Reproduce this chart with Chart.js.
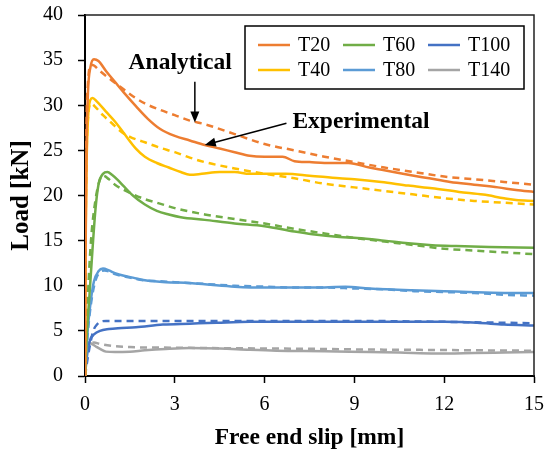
<!DOCTYPE html>
<html>
<head>
<meta charset="utf-8">
<script src="https://cdn.jsdelivr.net/npm/chart.js@4/dist/chart.umd.min.js"></script>
<style>
    html, body { margin: 0; padding: 0; background: #fff; }
</style>
</head>
<body>
<canvas id="js-slipChart" width="546" height="455"></canvas>
<script>
// load [kN] against free end slip [mm], pairs of [slip, load]
const t20Exp = [[0,0],[0.02,15],[0.05,25],[0.1,31.5],[0.18,34.2],[0.3,35.1],[0.45,34.9],[0.7,33.8],[1.0,32.6],[1.3,31.4],[1.7,29.9],[2.1,28.5],[2.5,27.4],[3.0,26.6],[3.5,26.1],[4.0,25.6],[4.5,25.2],[5.0,24.8],[5.5,24.4],[6.0,24.3],[6.6,24.3],[7.0,23.8],[7.5,23.7],[8.0,23.6],[8.8,23.6],[9.5,23.1],[10.0,22.8],[10.8,22.3],[11.5,21.9],[12.2,21.5],[13.0,21.2],[13.8,20.9],[14.4,20.6],[15.0,20.4]];
const t20Ana = [[0,0],[0.02,18],[0.05,28],[0.1,32.5],[0.2,34.5],[0.3,34.4],[0.5,33.8],[0.8,33.0],[1.2,32.0],[1.6,31.0],[2.0,30.2],[2.5,29.5],[3.0,28.9],[3.5,28.3],[4.0,27.9],[5.0,26.8],[6.0,25.7],[7.0,25.0],[8.0,24.3],[9.0,23.7],[10.0,23.1],[11.0,22.6],[12.0,22.1],[13.0,21.8],[14.0,21.5],[15.0,21.2]];
const t40Exp = [[0,0],[0.02,14],[0.05,23],[0.1,28.5],[0.18,30.6],[0.25,30.8],[0.4,30.4],[0.7,29.3],[1.0,28.2],[1.3,26.9],[1.7,25.2],[2.0,24.3],[2.4,23.6],[2.8,23.1],[3.2,22.6],[3.5,22.3],[3.9,22.4],[4.5,22.6],[5.0,22.6],[5.5,22.4],[6.0,22.4],[6.7,22.4],[7.5,22.2],[8.5,21.9],[9.0,21.8],[9.9,21.5],[10.8,21.1],[11.6,20.8],[12.5,20.4],[13.3,20.1],[14.0,19.7],[14.4,19.5],[15.0,19.4]];
const t40Ana = [[0,0],[0.02,15],[0.05,24],[0.1,28.5],[0.2,30.2],[0.35,29.8],[0.6,28.9],[0.9,28.0],[1.2,27.1],[1.5,26.5],[2.0,25.9],[2.5,25.3],[3.0,24.8],[3.5,24.2],[4.0,23.7],[5.0,23.0],[6.0,22.4],[7.0,21.9],[8.0,21.3],[9.0,20.9],[10.0,20.5],[11.0,20.1],[12.0,19.7],[13.0,19.4],[14.0,19.2],[15.0,19.0]];
const t60Exp = [[0,0],[0.05,4],[0.15,9],[0.25,14],[0.35,18.5],[0.45,21.2],[0.6,22.4],[0.75,22.6],[0.9,22.3],[1.1,21.7],[1.3,21.0],[1.6,20.0],[2.0,19.0],[2.4,18.3],[2.8,17.9],[3.2,17.6],[4.0,17.3],[5.0,16.9],[6.0,16.6],[7.0,16.0],[7.6,15.7],[8.5,15.4],[9.1,15.3],[10.0,15.0],[10.8,14.7],[11.6,14.5],[12.4,14.4],[13.5,14.3],[15.0,14.2]];
const t60Ana = [[0,0],[0.1,9],[0.2,15],[0.35,19.5],[0.5,21.8],[0.6,22.2],[0.8,21.8],[1.0,21.2],[1.5,20.3],[2.0,19.6],[2.5,19.1],[3.0,18.6],[4.0,17.9],[5.0,17.4],[6.0,16.9],[7.0,16.3],[8.0,15.8],[9.0,15.3],[10.0,14.9],[11.0,14.5],[12.0,14.1],[13.0,13.9],[14.0,13.7],[15.0,13.5]];
const t80Exp = [[0,0],[0.05,3],[0.1,5.5],[0.2,8.5],[0.3,10.5],[0.45,11.6],[0.6,11.9],[0.8,11.7],[1.0,11.4],[1.3,11.1],[1.6,10.9],[2.0,10.6],[2.7,10.4],[3.5,10.3],[4.2,10.1],[5.0,9.9],[6.0,9.8],[7.0,9.8],[8.0,9.8],[8.7,9.9],[9.5,9.7],[10.9,9.5],[12.0,9.4],[12.8,9.3],[14.0,9.2],[15.0,9.2]];
const t80Ana = [[0,0],[0.1,5],[0.2,8],[0.35,10.6],[0.5,11.5],[0.65,11.7],[0.8,11.6],[1.0,11.3],[1.5,10.9],[2.0,10.6],[2.5,10.5],[3.0,10.4],[4.0,10.2],[5.0,10.0],[6.0,9.9],[7.0,9.8],[8.0,9.8],[9.0,9.7],[10.0,9.6],[11.0,9.4],[12.0,9.3],[13.0,9.2],[14.0,9.0],[15.0,8.9]];
const t100Exp = [[0,0],[0.05,1.8],[0.1,3.0],[0.17,4.0],[0.3,4.6],[0.5,5.0],[0.8,5.2],[1.1,5.3],[1.7,5.4],[2.6,5.7],[3.5,5.8],[4.4,5.9],[5.5,6.0],[6.4,6.0],[8.0,6.0],[9.5,6.0],[10.8,6.0],[12.0,6.0],[13.1,5.9],[14.0,5.7],[15.0,5.6]];
const t100Ana = [[0,0],[0.1,2.2],[0.2,4.0],[0.3,5.2],[0.4,5.7],[0.5,6.0],[0.7,6.1],[1.0,6.1],[3.0,6.1],[6.0,6.1],[9.0,6.1],[12.0,6.0],[13.0,5.95],[14.0,5.9],[15.0,5.85]];
const t140Exp = [[0,0],[0.02,2.5],[0.05,3.3],[0.1,3.7],[0.2,3.6],[0.35,3.3],[0.5,3.0],[0.7,2.7],[1.0,2.65],[1.5,2.7],[2.0,2.85],[2.7,3.0],[3.5,3.1],[4.5,3.05],[5.5,2.9],[6.4,2.8],[8.0,2.75],[9.5,2.65],[10.5,2.6],[11.7,2.5],[13.0,2.55],[14.0,2.6],[15.0,2.65]];
const t140Ana = [[0,0],[0.05,2.5],[0.1,3.3],[0.2,3.65],[0.3,3.7],[0.5,3.55],[0.75,3.4],[1.0,3.3],[1.5,3.2],[2.5,3.15],[4.0,3.1],[6.0,3.05],[8.0,3.0],[9.0,2.95],[11.0,2.9],[13.0,2.85],[15.0,2.8]];

const seriesNames = ['T20', 'T40', 'T60', 'T80', 'T100', 'T140'];
const seriesColors = ['#ED7D31', '#FFC000', '#70AD47', '#5B9BD5', '#4472C4', '#A5A5A5'];
const experimental = [t20Exp, t40Exp, t60Exp, t80Exp, t100Exp, t140Exp];
const analytical = [t20Ana, t40Ana, t60Ana, t80Ana, t100Ana, t140Ana];

const xTicks = [0, 3, 6, 9, 12, 15];
const yTicks = [0, 5, 10, 15, 20, 25, 30, 35, 40];

// callouts: text anchor and arrow tail -> head, in slip/load units
const callouts = [
    { text: 'Analytical', at: [3.18, 34.7], align: 'center', from: [3.67, 32.6], to: [3.67, 28.1] },
    { text: 'Experimental', at: [6.93, 28.1], align: 'left', from: [6.73, 28.0], to: [4.0, 25.6] },
];

const serif = '"Liberation Serif", "Times New Roman", serif';

const datasets = [];
seriesNames.forEach((name, i) => {
    datasets.push({
        label: name,
        data: experimental[i],
        borderColor: seriesColors[i],
        borderWidth: 2.5,
        pointRadius: 0,
        cubicInterpolationMode: 'monotone',
        fill: false,
    });
    datasets.push({
        label: name + ' analytical',
        data: analytical[i],
        borderColor: seriesColors[i],
        borderWidth: 2.5,
        borderDash: [7, 5],
        pointRadius: 0,
        cubicInterpolationMode: 'monotone',
        fill: false,
    });
});

// box around the plot plus the in-chart legend
const framePlugin = {
    id: 'frame',
    afterDraw(chart) {
        const { ctx, chartArea: a } = chart;
        ctx.save();
        ctx.strokeStyle = '#222';
        ctx.lineWidth = 1.5;
        ctx.beginPath();
        ctx.moveTo(a.left, a.top);
        ctx.lineTo(a.right, a.top);
        ctx.lineTo(a.right, a.bottom);
        ctx.stroke();

        const left = a.right - 289, top = a.top + 11;
        ctx.fillStyle = '#fff';
        ctx.fillRect(left, top, 279, 63);
        ctx.strokeStyle = '#000';
        ctx.lineWidth = 1.5;
        ctx.strokeRect(left, top, 279, 63);

        ctx.font = '20px ' + serif;
        ctx.textBaseline = 'middle';
        ctx.textAlign = 'left';
        seriesNames.forEach((name, i) => {
            const col = Math.floor(i / 2), row = i % 2;
            const x = left + 13 + col * 85;
            const y = top + 19 + row * 25;
            ctx.strokeStyle = seriesColors[i];
            ctx.lineWidth = 2.5;
            ctx.beginPath();
            ctx.moveTo(x, y);
            ctx.lineTo(x + 32, y);
            ctx.stroke();
            ctx.fillStyle = '#000';
            ctx.fillText(name, x + 40, y + 1);
        });
        ctx.restore();
    }
};

const calloutPlugin = {
    id: 'callouts',
    afterDatasetsDraw(chart) {
        const { ctx, scales: { x, y } } = chart;
        ctx.save();
        ctx.font = 'bold 23.5px ' + serif;
        ctx.fillStyle = '#000';
        ctx.strokeStyle = '#000';
        ctx.textBaseline = 'middle';
        callouts.forEach(c => {
            ctx.textAlign = c.align;
            ctx.fillText(c.text, x.getPixelForValue(c.at[0]), y.getPixelForValue(c.at[1]));

            const x1 = x.getPixelForValue(c.from[0]), y1 = y.getPixelForValue(c.from[1]);
            const x2 = x.getPixelForValue(c.to[0]), y2 = y.getPixelForValue(c.to[1]);
            const ang = Math.atan2(y2 - y1, x2 - x1);
            const head = 11, half = 4.5;
            ctx.lineWidth = 1.5;
            ctx.beginPath();
            ctx.moveTo(x1, y1);
            ctx.lineTo(x2 - Math.cos(ang) * head * 0.8, y2 - Math.sin(ang) * head * 0.8);
            ctx.stroke();
            ctx.beginPath();
            ctx.moveTo(x2, y2);
            ctx.lineTo(x2 - Math.cos(ang) * head - Math.sin(ang) * half, y2 - Math.sin(ang) * head + Math.cos(ang) * half);
            ctx.lineTo(x2 - Math.cos(ang) * head + Math.sin(ang) * half, y2 - Math.sin(ang) * head - Math.cos(ang) * half);
            ctx.closePath();
            ctx.fill();
        });
        ctx.restore();
    }
};

const axisGrid = {
    display: true,
    drawOnChartArea: false,
    drawTicks: true,
    tickLength: 7,
    tickColor: '#000',
    tickWidth: 1.5,
};

// fixed axis band, labels may spill into the outer margin
function fixSize(prop, size) {
    return s => {
        s[prop] = size;
        s.paddingLeft = s.paddingRight = s.paddingTop = s.paddingBottom = 0;
    };
}

new Chart(document.getElementById('js-slipChart'), {
    type: 'line',
    data: { datasets },
    options: {
        responsive: false,
        animation: false,
        layout: { padding: { left: 0, right: 12, top: 15, bottom: 0 } },
        plugins: {
            legend: { display: false },
            tooltip: { enabled: false },
        },
        scales: {
            x: {
                type: 'linear',
                min: 0,
                max: 15,
                grid: axisGrid,
                border: { color: '#000', width: 2 },
                afterBuildTicks: s => { s.ticks = xTicks.map(v => ({ value: v })); },
                afterFit: fixSize('height', 79),
                ticks: { color: '#000', padding: 10, maxRotation: 0, font: { family: serif, size: 20 } },
                title: {
                    display: true,
                    text: 'Free end slip [mm]',
                    color: '#000',
                    padding: { top: 0, bottom: 3 },
                    font: { family: serif, size: 23.5, weight: 'bold' },
                },
            },
            y: {
                min: 0,
                max: 40,
                grid: axisGrid,
                border: { color: '#000', width: 2 },
                afterBuildTicks: s => { s.ticks = yTicks.map(v => ({ value: v })); },
                afterFit: fixSize('width', 85),
                ticks: { color: '#000', padding: 15, font: { family: serif, size: 20 } },
                title: {
                    display: true,
                    text: 'Load [kN]',
                    color: '#000',
                    padding: { top: 7, bottom: 0 },
                    font: { family: serif, size: 25, weight: 'bold' },
                },
            },
        },
    },
    plugins: [framePlugin, calloutPlugin],
});
</script>
</body>
</html>
